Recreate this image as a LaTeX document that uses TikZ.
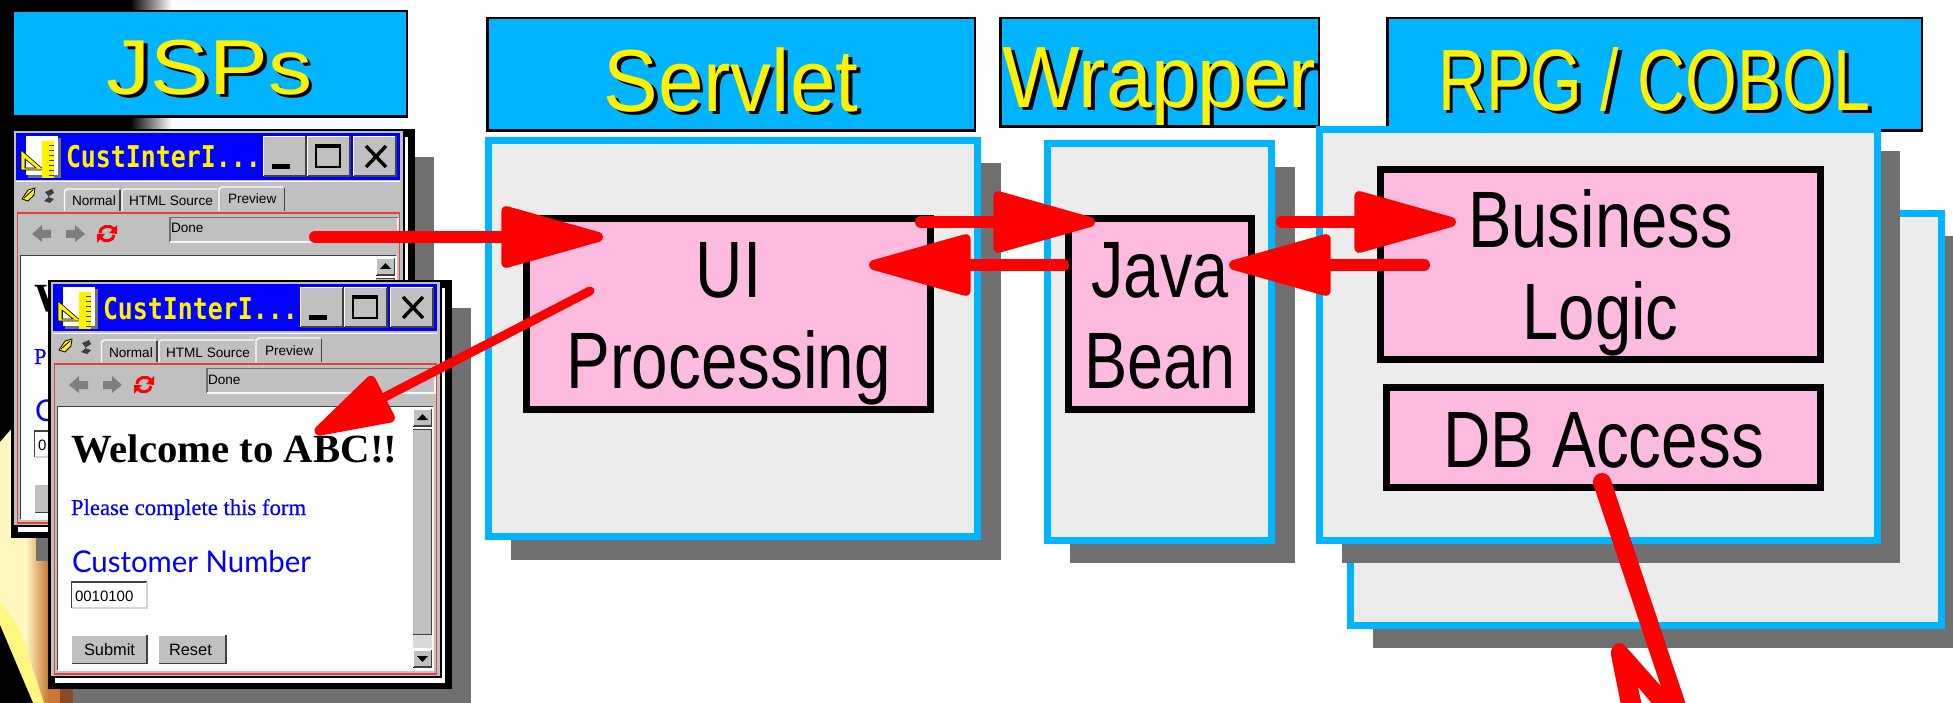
\documentclass[tikz,border=0pt]{standalone}
\usepackage{fontspec}
\usepackage{graphicx}
\setmainfont{Liberation Sans}
\newfontfamily\serifF{Liberation Serif}
\newfontfamily\serifB[FakeBold=0.5]{Liberation Serif}
\newfontfamily\monoF{DejaVu Sans Mono}
\newfontfamily\latoF{Lato}
\usetikzlibrary{arrows.meta}
\definecolor{cy}{HTML}{00B4FF}
\definecolor{pgray}{HTML}{ECECEC}
\definecolor{sgray}{HTML}{707070}
\definecolor{pk}{HTML}{FDBBDF}
\definecolor{wg}{HTML}{C0C0C0}
\definecolor{wd}{HTML}{404040}
\definecolor{rf}{HTML}{E84040}
\definecolor{cream}{HTML}{FFF6C0}
\definecolor{org}{HTML}{C87A35}
\definecolor{brn}{HTML}{8A4A25}
\tikzset{
  x=1pt,y=-1pt,
  rect/.style={rectangle,inner sep=0pt,outer sep=0pt},
  hdrbox/.style={rect,draw=black,line width=2.5pt,fill=cy},
  panel/.style={rect,draw=cy,line width=7pt,fill=pgray},
  pinkbox/.style={rect,draw=black,line width=7pt,fill=pk,font=\fontsize{80}{80}\selectfont},
  shadowfill/.style={fill=sgray},
  flow/.style={draw=red,line width=12pt,line cap=round,-{Triangle[length=116pt,width=62pt,round,line width=10pt]}},
  flowthin/.style={draw=red,line width=9pt,line cap=round,-{Triangle[length=92pt,width=52pt,round,line width=10pt]}},
  plainred/.style={draw=red,line width=18pt,line cap=round},
  wtext/.style={rect,anchor=base west,text=black},
  small/.style={wtext,font=\fontsize{13.6}{14}\selectfont},
  gbtn/.style={fill=wg},
  hi/.style={draw=white,line width=1.4pt},
  lo/.style={draw=wd,line width=1.6pt},
}
% zero-size centred label raised by #1, x-scaled by #2
\newcommand\lb[3]{\makebox[0pt]{\raisebox{#1pt}[0pt][0pt]{\scalebox{#2}[1]{#3}}}}
% box from outer corners (x1,y1)-(x2,y2) with line width lw
\newcommand\bx[8]{\node[#1,minimum width={(#6-#4-#3)*1pt},minimum height={(#7-#5-#3)*1pt}] (#2) at ({(#4+#6)/2},{(#5+#7)/2}) {#8};}
\newcommand\hd[4]{\fontsize{#1}{#1}\selectfont\makebox[0pt]{\hspace*{7pt}\raisebox{\dimexpr#2pt-3pt\relax}[0pt][0pt]{\color{black}\scalebox{#3}[1]{#4}}}\makebox[0pt]{\raisebox{#2pt}[0pt][0pt]{\color{yellow}\scalebox{#3}[1]{#4}}}}
\newcommand\raised[6]{\draw[#1] (#2,#3) rectangle (#4,#5); \draw[hi] (#2,#5)--(#2,#3)--(#4,#3); \draw[lo] (#4,#3)--(#4,#5)--(#2,#5); #6}
% window chrome, in the coordinates of the front window
\newcommand\winchrome[1]{%
  \fill[sgray] (73,308) rectangle (471,712);
  \fill[black] (48,280) rectangle (452,689);
  \fill[white] (55,677) rectangle (445,683);
  \fill[white] (441,288) rectangle (445,683);
  \draw[fill=wg,draw=black,line width=2pt] (50,281) rectangle (440.5,676.5);
  \fill[blue] (53,284) rectangle (437,331);
  \draw[white,line width=1pt] (53,333) -- (437,333);
  % icon
  \fill[sgray] (65,289) rectangle (97.5,329);
  \fill[white] (63,287) rectangle (95,326);
  \fill[yellow,draw=black,line width=.6pt,even odd rule] (58,301)--(81,321)--(58,321)--cycle (62,310)--(73,319)--(62,319)--cycle;
  \fill[yellow] (79,292) rectangle (91,329);
  \foreach \yy in {296,301,...,326} {\draw[wd,line width=.8pt] (86,\yy)--(91,\yy);}
  \node[rect,anchor=base west,text=yellow,font=\monoF\bfseries\fontsize{30}{30}\selectfont] (#1title) at (103,319) {\scalebox{.83}[1]{CustInterI...}};
  % window buttons
  \raised{gbtn}{300.5}{287.5}{343}{327}{}
  \raised{gbtn}{344.5}{287.5}{387}{327}{}
  \raised{gbtn}{390.5}{287.5}{433}{327}{}
  \fill[black] (309,315) rectangle (327,320);
  \draw[black,line width=2.5pt] (353,296.5) rectangle (377,318);
  \fill[black] (352,295) rectangle (378,299);
  \draw[black,line width=3.4pt] (403,297)--(423,318) (423,297)--(403,318);
  % small tool icons
  \fill[yellow,draw=black,line width=.8pt] (59,350)--(65,341)--(72,339)--(71,346)--(65,352)--cycle;
  \draw[black,line width=.8pt] (61,349)--(70,341);
  \fill[wd] (82,343)--(89,340)--(91,344)--(85,348)--(91,350)--(87,354)--(81,352)--(86,348)--cycle;
  % tabs
  \draw[hi] (101.5,362)--(101.5,342)--(104,340)--(156,340);
  \draw[lo] (157,341)--(157,362);
  \draw[hi] (159,362)--(159,342)--(161,340)--(254,340);
  \draw[hi] (256,362)--(256,340)--(259,338)--(320,338);
  \draw[lo] (321.5,339)--(321.5,362);
  \node[small] (#1tabn) at (109,357) {Normal};
  \node[small] (#1tabh) at (166,357) {HTML Source};
  \node[small] (#1tabp) at (265,355) {Preview};
  % red frame, tool row
  \draw[rf,line width=1.4pt] (54.5,364) rectangle (436.5,674);
  \fill[sgray!90] (69,385)--(79,376)--(79,381)--(88,381)--(88,389)--(79,389)--(79,393)--cycle;
  \fill[sgray!90] (122,385)--(112,376)--(112,381)--(103,381)--(103,389)--(112,389)--(112,393)--cycle;
  \draw[red,line width=3pt] (137,384) .. controls (137,377) and (147,375) .. (151,380);
  \draw[red,line width=3pt] (151,386) .. controls (151,392) and (141,394) .. (138,389);
  \fill[red] (146,384)--(154,376)--(154,385)--cycle (142,385)--(134,394)--(134,385)--cycle;
  \fill[wg] (207,368) rectangle (435,393);
  \draw[sgray,line width=1.4pt] (207,393)--(207,368.5)--(435,368.5);
  \draw[white!85!wg,line width=1.4pt] (207,393)--(435,393)--(435,369);
  \node[small] (#1done) at (208,384) {Done};
  % body
  \fill[white] (57.5,406.5) rectangle (432.5,669.5);
  \draw[wd,line width=1.6pt] (57.5,670)--(57.5,406.5)--(432.5,406.5);
  \draw[white!85!wg,line width=1.4pt] (57.5,670)--(433,670)--(433,407);
  % scroll bar
  \fill[wg] (413,429) rectangle (431.5,635);
  \draw[lo] (431.5,429)--(431.5,635)--(413,635);
  \draw[wd,line width=1pt] (413,429)--(431,429);
  \fill[wg!60!white] (413,635) rectangle (431.5,648);
  \raised{gbtn}{413.5}{409}{431.5}{426}{}
  \raised{gbtn}{413.5}{650}{431.5}{667}{}
  \fill[black] (417,420)--(422.5,414)--(428,420)--cycle;
  \fill[black] (417,656)--(422.5,662)--(428,656)--cycle;
  % field and buttons
  \fill[white] (71,581.5) rectangle (147,608);
  \draw[wd,line width=1.4pt] (71.5,608)--(71.5,582)--(147,582);
  \draw[wg!70!white,line width=1.2pt] (71.5,608)--(147,608)--(147,582);
  \raised{gbtn}{71.5}{635}{147}{663.5}{}
}
\newcommand\winbody[6]{%
  \node[wtext,font=\serifF\bfseries\fontsize{40}{40}\selectfont] (#1w) at (71,462) {\scalebox{1.02}[1]{#2}};
  \node[wtext,text=blue,font=\serifB\fontsize{22.7}{23}\selectfont] (#1p) at (71,515) {#3};
  \node[wtext,text=blue,font=\latoF\fontsize{30}{30}\selectfont] (#1c) at (72,572) {\scalebox{.98}[1]{#4}};
  \node[wtext,font=\fontsize{15}{15}\selectfont] (#1n) at (75,601) {#5};
  \node[wtext,font=\fontsize{16.4}{16}\selectfont] (#1s) at (84,655) {#6};
}
\begin{document}
\begin{tikzpicture}
\useasboundingbox (0,0) rectangle (1953,703);
\begin{scope}
\clip (0,0) rectangle (1953,703);
\fill[white] (0,0) rectangle (1953,703);
% photo background at the left
\fill[black] (0,0) rectangle (130,703);
\shade[left color=black,right color=white,shading angle=90] (130,0) rectangle (172,135);
\fill[white] (73,689) rectangle (130,703);
\fill[black] (0,400) rectangle (73,703);
\fill[cream] (0,442)--(14,426)--(14,536)--(30,536)--(30,703)--(0,703)--cycle;
\shade[left color=cream,right color=org] (26,536) rectangle (48,703);
\fill[org] (48,536) rectangle (60,703);
\fill[brn] (36,536) rectangle (48,558);
\fill[brn] (60,689) rectangle (73,703);
\fill[yellow!50!white] (0,600)--(20,630)--(44,703)--(0,703)--cycle;
\fill[black] (0,625)--(33,703)--(0,703)--cycle;
% headers
\bx{hdrbox}{hjsp}{2.5}{11}{10}{408}{118}{\hd{78}{-31}{1.13}{JSPs}}
\bx{hdrbox}{hserv}{2.5}{486}{17}{976}{132}{\hd{88}{-37.5}{.93}{Servlet}}
\bx{hdrbox}{hwrap}{2.5}{999}{17}{1320}{128}{\hd{87}{-35.5}{.945}{Wrapper}}
\bx{hdrbox}{hrpg}{2.5}{1386}{17}{1923}{132}{\hd{87}{-36.5}{.765}{RPG / COBOL}}
% shadows and panels
\fill[shadowfill] (511,163) rectangle (1001,560);
\bx{panel}{pserv}{7}{485}{137}{981}{540}{}
\fill[shadowfill] (1070,167) rectangle (1295,563);
\bx{panel}{pwrap}{7}{1044}{140}{1275}{544}{}
\fill[shadowfill] (1373,236) rectangle (1960,648);
\bx{panel}{plow}{7}{1347}{210}{1945}{629}{}
\fill[shadowfill] (1342,151) rectangle (1900,563);
\bx{panel}{prpg}{7}{1316}{126}{1881}{544}{}
% pink boxes
\bx{pinkbox}{ui}{7}{523}{215}{934}{413}{\lb{17}{.82}{UI}\lb{-74}{.82}{Processing}}
\bx{pinkbox}{bean}{7}{1065}{215}{1255}{413}{\lb{17}{.81}{Java}\lb{-74}{.81}{Bean}}
\bx{pinkbox}{biz}{7}{1377}{166}{1824}{363}{\lb{16.5}{.815}{Business}\lb{-75.5}{.815}{Logic}}
\bx{pinkbox}{db}{7}{1383}{384}{1824}{491}{\lb{-29.5}{.82}{DB Access}}
% back window
\begin{scope}[shift={(-37,-151)}]
  \winchrome{a}
  \winbody{a}{W}{P}{C}{0}{S}
\end{scope}
% front window
\winchrome{b}
\raised{gbtn}{158.5}{635}{226}{663.5}{}
\winbody{b}{Welcome to ABC!!}{Please complete this form}{Customer Number}{0010100}{Submit}
\node[wtext,font=\fontsize{16.4}{16}\selectfont] (breset) at (169,655) {Reset};
% connectors
\coordinate (aIn) at (315,237);   \coordinate (uiIn) at (603,237);
\coordinate (uiOut) at (590,291); \coordinate (winTip) at (315,433);
\coordinate (uiR) at (921,222);   \coordinate (beanL) at (1095,222);
\coordinate (beanL2) at (1063,265); \coordinate (uiR2) at (869,265);
\coordinate (beanR) at (1282,222);  \coordinate (bizL) at (1456,222);
\coordinate (bizL2) at (1424,265);  \coordinate (beanR2) at (1229,265);
\coordinate (dbOut) at (1602,482);  \coordinate (dbEnd) at (1690,745);
\draw[flow] (aIn) -- (uiIn);
\draw[flowthin] (uiOut) -- (winTip);
\draw[flow] (uiR) -- (beanL);
\draw[flow] (beanL2) -- (uiR2);
\draw[flow] (beanR) -- (bizL);
\draw[flow] (bizL2) -- (beanR2);
\draw[plainred] (dbOut) -- (dbEnd);
\fill[red,even odd rule] (1611,655) .. controls (1610,648) and (1615,643) .. (1619,643) .. controls (1623,643) and (1625,646) .. (1627,648) -- (1666,692) -- (1680,720) -- (1624,720) -- cycle (1638,687) -- (1642,706) -- (1654,706) -- cycle;
\end{scope}
\end{tikzpicture}
\end{document}
